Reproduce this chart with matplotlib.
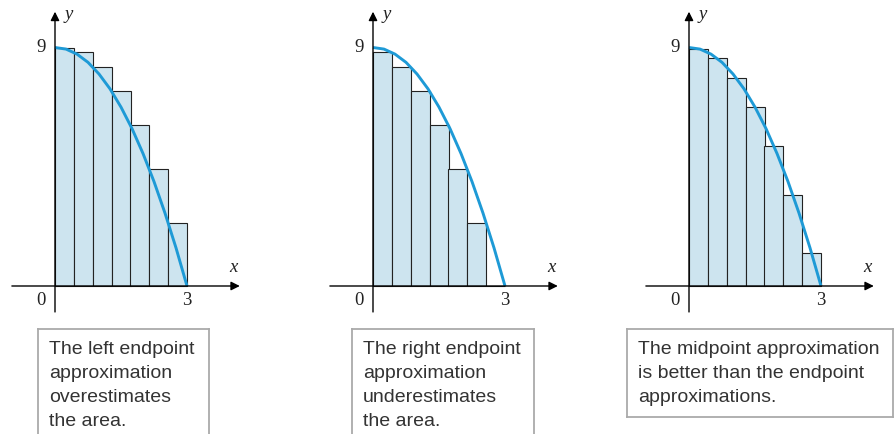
import matplotlib
matplotlib.use("Agg")
import matplotlib.pyplot as plt
from matplotlib.lines import Line2D

W, H = 895, 434

# curve y = 9 - x^2
curve_x = [0, 0.25, 0.5, 0.75, 1.0, 1.25, 1.5, 1.75, 2.0, 2.25, 2.5, 2.75, 3.0]
curve_y = [9.0, 8.94, 8.75, 8.44, 8.0, 7.44, 6.75, 5.94, 5.0, 3.94, 2.75, 1.44, 0.0]

bar_width = 3 / 7
left_edges = [0.0, 0.43, 0.86, 1.29, 1.71, 2.14, 2.57]
left_heights = [9.0, 8.82, 8.27, 7.35, 6.06, 4.41, 2.39]
right_heights = [8.82, 8.27, 7.35, 6.06, 4.41, 2.39, 0.0]
mid_heights = [8.95, 8.59, 7.85, 6.75, 5.28, 3.44, 1.24]

captions = [
    ["The left endpoint", "approximation", "overestimates", "the area."],
    ["The right endpoint", "approximation", "underestimates", "the area."],
    ["The midpoint approximation", "is better than the endpoint", "approximations."],
]

origins_px = [55, 373, 689]  # pixel x of y-axis
x_axis_px = 286
px_x = 44.0   # pixels per x unit
px_y = 26.5   # pixels per y unit

blue = "#1e9ad6"
fill = "#cde4ef"

fig = plt.figure(figsize=(W / 100, H / 100), dpi=100)


def fx(px):
    return px / W


def fy(py):
    return 1 - py / H


def panel(x0_px, heights):
    ax = fig.add_axes([0, 0, 1, 1])
    ax.set_xlim(-x0_px / px_x, (W - x0_px) / px_x)
    ax.set_ylim(-(H - x_axis_px) / px_y, x_axis_px / px_y)
    ax.axis("off")
    ax.patch.set_alpha(0)
    ax.bar(left_edges, heights, width=bar_width, align="edge", color=fill,
           edgecolor="#222222", linewidth=0.8, zorder=2)
    ax.plot(curve_x, curve_y, color=blue, lw=2.1, zorder=3, solid_capstyle="butt")
    arrow = dict(arrowstyle="-|>", color="black", lw=1.0, mutation_scale=13,
                 shrinkA=0, shrinkB=0)
    ax.annotate("", xy=(4.2, 0), xytext=(-0.98, 0), arrowprops=arrow, zorder=4)
    ax.annotate("", xy=(0, 10.35), xytext=(0, -0.98), arrowprops=arrow, zorder=4)
    serif = dict(family="Liberation Serif", fontsize=13.5, color="#222222")
    ax.text(-0.22, 9, "9", ha="right", va="center", **serif)
    ax.text(-0.22, -0.55, "0", ha="right", va="center", **serif)
    ax.text(3, -0.55, "3", ha="center", va="center", **serif)
    ax.text(0.32, 10.25, "y", ha="center", va="center", style="italic", **serif)
    ax.text(4.05, 0.7, "x", ha="center", va="center", style="italic", **serif)
    return ax


def caption(lines, left, right, top, bottom=None):
    grey = "#aaaaaa"
    lw = 1.3
    bot = H if bottom is None else bottom
    for xs, ys in [([left, left], [top, bot]), ([right, right], [top, bot]),
                   ([left, right], [top, top])]:
        fig.add_artist(Line2D([fx(x) for x in xs], [fy(y) for y in ys],
                              color=grey, lw=lw))
    if bottom is not None:
        fig.add_artist(Line2D([fx(left), fx(right)], [fy(bottom), fy(bottom)],
                              color=grey, lw=lw))
    for i, line in enumerate(lines):
        fig.text(fx(left + 11), fy(354 + 24 * i), line, ha="left", va="baseline",
                 family="Liberation Sans", fontsize=14, color="#333333")


panel(origins_px[0], left_heights)
panel(origins_px[1], right_heights)
panel(origins_px[2], mid_heights)

caption(captions[0], 38, 209, 329)
caption(captions[1], 352, 534, 329)
caption(captions[2], 627, 893, 329, 417)

fig.savefig("out.png", dpi=100)
